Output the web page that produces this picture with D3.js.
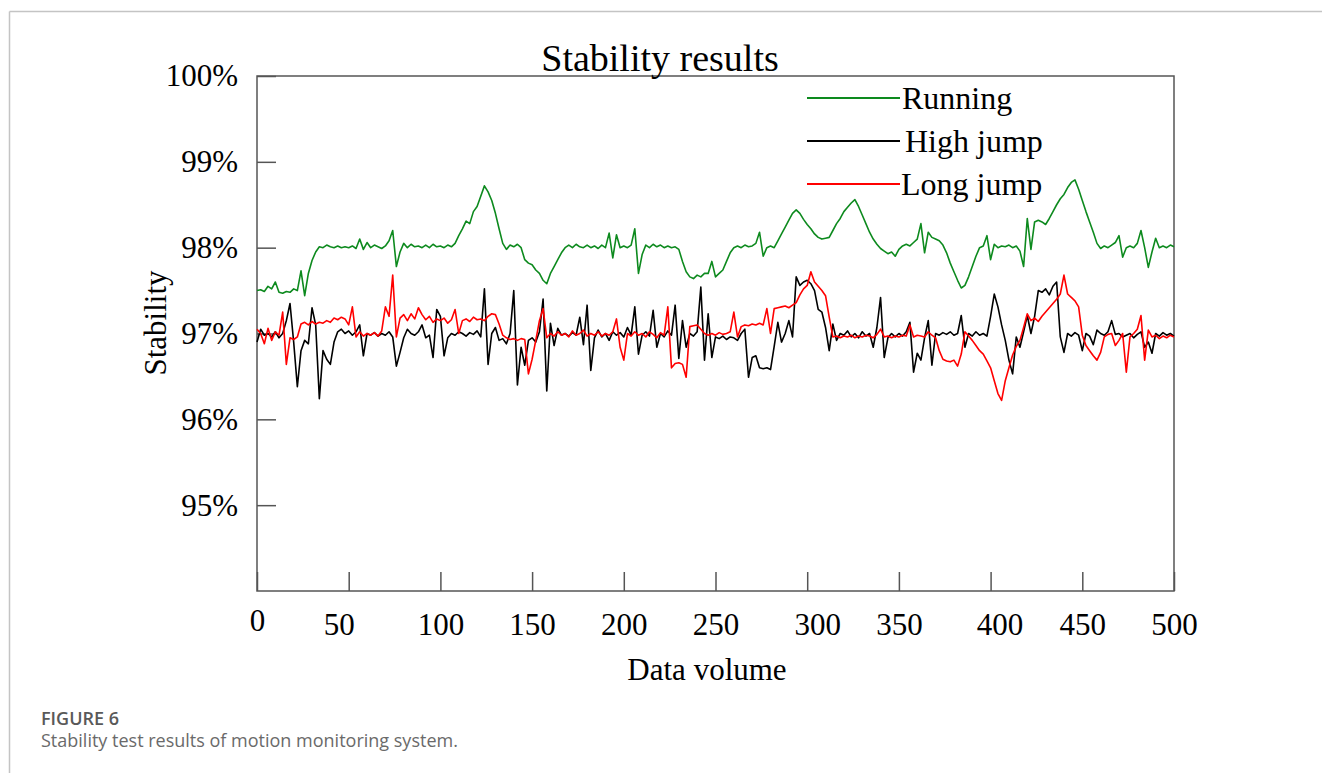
<!DOCTYPE html>
<html>
<head>
<meta charset="utf-8">
<script src="https://cdn.jsdelivr.net/npm/d3@7"></script>
<style>
  body { margin: 0; background: #fff; }
  svg { display: block; }
</style>
</head>
<body>
<svg id="chart" width="1322" height="773"></svg>
<script>
// data volume sampled every 2 units, 0..500
var dataVolume = d3.range(0, 501, 2);
var yTicks = [95, 96, 97, 98, 99, 100];
var xTicks = [0, 50, 100, 150, 200, 250, 300, 350, 400, 450, 500];
var seriesNames = ["Running", "High jump", "Long jump"];

var running = [
  97.50,97.51,97.49,97.55,97.52,97.60,97.48,97.47,97.49,97.48,97.52,97.50,97.73,97.44,97.70,97.85,97.95,98.01,98.00,98.03,98.01,98.00,98.02,98.00,98.01,
  98.00,98.02,97.99,98.10,97.98,98.06,98.00,98.03,98.01,97.99,98.02,98.08,98.20,97.78,97.95,98.05,98.00,98.04,98.01,98.02,98.00,98.03,98.00,98.04,98.01,
  98.02,98.00,98.03,98.01,98.05,98.14,98.22,98.31,98.28,98.42,98.48,98.60,98.72,98.65,98.55,98.40,98.22,98.05,97.98,98.03,98.01,98.04,98.00,97.86,97.82,
  97.80,97.74,97.70,97.62,97.58,97.70,97.78,97.86,97.94,98.00,98.03,98.00,98.04,98.01,98.00,98.03,98.00,98.02,97.99,98.03,98.00,98.17,97.88,98.15,98.00,
  98.02,98.00,98.03,98.22,97.70,97.92,98.03,98.00,98.04,98.01,98.03,98.00,98.02,98.00,98.01,97.98,97.84,97.72,97.66,97.64,97.68,97.66,97.70,97.70,97.84,
  97.66,97.70,97.74,97.84,97.94,98.00,98.02,98.00,98.03,98.01,98.02,98.05,98.18,97.90,98.00,98.02,98.00,98.08,98.16,98.24,98.32,98.40,98.44,98.40,98.33,
  98.27,98.22,98.16,98.12,98.10,98.11,98.12,98.20,98.28,98.34,98.42,98.47,98.52,98.56,98.48,98.38,98.28,98.18,98.10,98.04,97.99,97.96,97.93,97.95,97.90,
  97.98,98.02,98.04,98.02,98.06,98.10,98.28,97.94,98.18,98.12,98.10,98.08,98.03,97.94,97.82,97.72,97.62,97.53,97.56,97.66,97.78,97.90,98.00,98.02,98.14,
  97.86,98.04,98.00,98.02,98.01,98.03,98.00,98.02,97.96,97.78,98.34,97.98,98.30,98.32,98.30,98.27,98.34,98.42,98.50,98.57,98.62,98.70,98.76,98.79,98.68,
  98.55,98.42,98.30,98.18,98.05,97.99,98.02,98.00,98.03,98.06,98.14,97.89,98.00,98.02,98.00,98.05,98.20,98.00,97.77,97.95,98.11,98.00,98.02,98.00,98.03,98.01
];

var highJump = [
  96.90,97.05,96.98,97.00,96.96,97.02,96.95,97.00,97.15,97.35,96.90,96.38,96.80,96.92,96.88,97.30,97.10,96.24,96.80,96.70,96.64,96.90,97.02,97.05,97.00,
  97.03,96.98,97.02,97.10,96.74,97.00,96.98,97.01,96.97,97.00,96.98,97.02,96.96,96.62,96.78,96.95,97.05,97.00,96.98,97.02,97.10,96.95,96.98,96.72,97.28,
  97.20,96.74,96.95,97.00,96.98,97.02,97.00,96.97,97.01,96.99,97.03,96.96,97.52,96.64,97.00,97.07,96.92,96.94,96.88,97.00,97.50,96.40,96.84,96.63,96.92,
  96.95,96.90,97.02,97.40,96.33,97.12,96.86,97.06,96.98,97.00,96.97,97.01,96.98,97.19,96.87,97.33,96.57,96.95,97.04,96.96,97.00,96.92,97.02,96.98,97.01,
  96.96,97.07,96.98,97.31,96.76,96.98,97.02,96.97,97.27,96.84,97.00,96.96,97.03,96.98,97.33,96.71,97.15,96.84,97.00,96.97,97.02,97.54,96.69,97.23,96.72,
  96.96,96.94,96.97,96.93,96.96,96.95,96.92,97.00,97.05,96.49,96.72,96.74,96.60,96.59,96.60,96.58,96.85,97.13,96.90,97.00,97.15,96.96,97.66,97.56,97.60,
  97.62,97.58,97.50,97.28,97.25,97.07,96.80,97.11,96.92,97.00,96.98,97.03,96.96,97.00,96.95,97.02,96.97,97.00,96.84,97.07,97.42,96.72,96.95,97.00,96.96,
  97.00,96.97,97.02,97.13,96.55,96.77,96.69,96.95,97.15,96.63,97.00,96.98,97.01,96.99,97.02,96.98,97.00,97.21,96.84,97.00,96.97,97.02,96.98,97.00,96.97,
  97.20,97.46,97.31,97.10,96.92,96.69,96.53,96.96,96.84,97.02,97.21,97.00,97.20,97.50,97.48,97.52,97.45,97.55,97.60,96.96,96.78,97.00,96.97,97.01,96.98,
  96.80,97.00,96.97,96.87,97.04,97.00,96.98,97.02,97.15,96.99,97.00,96.96,96.98,97.00,96.95,96.99,97.02,96.84,96.90,96.77,97.00,96.97,97.01,96.98,97.00,96.97
];

var longJump = [
  97.05,97.00,96.88,97.06,96.92,97.02,96.98,97.25,96.64,96.95,96.93,96.96,97.11,97.13,97.10,97.14,97.11,97.13,97.12,97.15,97.13,97.18,97.16,97.19,97.17,
  97.10,97.31,96.96,97.02,96.97,97.00,96.98,97.01,96.97,97.03,97.31,97.20,97.68,96.96,97.18,97.22,97.15,97.23,97.17,97.30,97.22,97.16,97.20,97.13,97.17,
  97.15,97.18,97.12,97.16,97.28,97.00,97.15,97.17,97.14,97.19,97.16,97.17,97.15,97.20,97.23,97.22,97.11,96.98,96.95,96.93,96.94,96.92,96.94,96.93,96.53,
  96.70,96.92,97.15,97.29,96.95,97.00,96.97,97.02,96.98,97.00,96.96,97.03,96.98,97.00,97.04,96.97,97.00,96.98,97.02,96.97,97.00,96.98,97.02,97.17,96.84,
  96.69,97.00,96.97,97.02,96.98,97.00,96.96,97.02,96.99,96.95,97.01,96.98,97.31,96.60,96.65,96.66,96.64,96.49,97.08,97.09,97.10,97.05,97.00,96.98,97.00,
  96.98,97.01,96.99,97.00,97.02,97.25,96.96,97.08,97.10,97.09,97.11,97.10,97.12,97.10,97.29,97.00,97.29,97.30,97.31,97.32,97.30,97.33,97.36,97.45,97.52,
  97.56,97.72,97.60,97.55,97.50,97.44,97.19,96.96,96.97,96.95,96.97,96.96,96.98,96.95,96.97,96.96,96.98,96.97,96.95,96.99,97.05,96.96,96.97,96.95,96.97,
  96.96,96.98,96.97,97.10,96.96,96.98,96.97,96.96,97.02,96.98,96.95,96.80,96.70,96.68,96.67,96.69,96.62,96.76,97.02,96.97,96.92,96.86,96.80,96.76,96.68,
  96.60,96.45,96.30,96.22,96.45,96.60,96.75,96.85,96.92,97.07,97.23,97.15,97.18,97.14,97.20,97.25,97.30,97.35,97.40,97.46,97.68,97.46,97.42,97.38,97.31,
  96.98,96.86,96.80,96.74,96.69,96.78,96.96,96.99,97.00,96.86,96.92,97.00,96.55,96.96,97.00,97.05,97.21,96.69,97.04,96.96,96.98,96.94,96.97,96.95,96.98,96.96
];

var colors = ["#0d8a1e", "#000000", "#ff0000"];
var serif = "'Liberation Serif', 'Times New Roman', serif";

var svg = d3.select("#chart");

// outer figure frame (top + left)
svg.append("line").attr("x1", 9.5).attr("y1", 11.5).attr("x2", 1322).attr("y2", 11.5)
  .attr("stroke", "#c4c4c4").attr("stroke-width", 1.5);
svg.append("line").attr("x1", 9.5).attr("y1", 11.5).attr("x2", 9.5).attr("y2", 773)
  .attr("stroke", "#c4c4c4").attr("stroke-width", 1.5);

var x = d3.scaleLinear().domain([0, 500]).range([257, 1174]);
var y = d3.scaleLinear().domain([94, 100]).range([591, 76]);

// small label nudges as in the original figure
var labelNudge = {0: [0, -4], 50: [-10, 0], 300: [10, 0], 400: [9, 0]};

var xAxis = svg.append("g")
  .attr("transform", "translate(0,591)")
  .call(d3.axisBottom(x).tickValues(xTicks).tickSize(-19).tickPadding(22).tickFormat(d3.format("d")));
xAxis.select(".domain").remove();
xAxis.selectAll(".tick line").attr("stroke", "#555").attr("stroke-width", 1.5);
xAxis.selectAll(".tick text")
  .attr("font-family", serif).attr("font-size", 31).attr("fill", "#000")
  .attr("transform", function(d) {
    var n = labelNudge[d] || [0, 0];
    return "translate(" + n[0] + "," + n[1] + ")";
  });

var yAxis = svg.append("g")
  .attr("transform", "translate(257,0)")
  .call(d3.axisLeft(y).tickValues(yTicks).tickSize(-19).tickPadding(19)
    .tickFormat(function(d) { return d + "%"; }));
yAxis.select(".domain").remove();
yAxis.selectAll(".tick line").attr("stroke", "#555").attr("stroke-width", 1.5);
yAxis.selectAll(".tick text")
  .attr("font-family", serif).attr("font-size", 31).attr("fill", "#000");

// plot box
svg.append("rect")
  .attr("x", x(0)).attr("y", y(100))
  .attr("width", x(500) - x(0)).attr("height", y(94) - y(100))
  .attr("fill", "none").attr("stroke", "#555").attr("stroke-width", 1.5);

var line = d3.line()
  .x(function(d, i) { return x(dataVolume[i]); })
  .y(function(d) { return y(d); });

var allSeries = [running, highJump, longJump];
svg.append("g").selectAll("path")
  .data(allSeries)
  .enter().append("path")
    .attr("d", line)
    .attr("fill", "none")
    .attr("stroke", function(d, i) { return colors[i]; })
    .attr("stroke-width", 1.6)
    .attr("stroke-linejoin", "round");

// legend
var legend = svg.append("g").selectAll("g")
  .data(seriesNames)
  .enter().append("g")
    .attr("transform", function(d, i) { return "translate(0," + (98 + i * 43) + ")"; });
legend.append("line")
  .attr("x1", 807).attr("x2", 900)
  .attr("stroke", function(d, i) { return colors[i]; })
  .attr("stroke-width", 2);
legend.append("text")
  .attr("x", function(d, i) { return [902, 905, 901][i]; })
  .attr("dy", "0.33em")
  .attr("font-family", serif).attr("font-size", 32)
  .text(function(d) { return d; });

// titles
svg.append("text")
  .attr("x", 660).attr("y", 71)
  .attr("text-anchor", "middle")
  .attr("font-family", serif).attr("font-size", 38)
  .text("Stability results");

svg.append("text")
  .attr("x", 707).attr("y", 680)
  .attr("text-anchor", "middle")
  .attr("font-family", serif).attr("font-size", 31)
  .text("Data volume");

svg.append("text")
  .attr("transform", "translate(166,323) rotate(-90)")
  .attr("text-anchor", "middle")
  .attr("font-family", serif).attr("font-size", 31)
  .text("Stability");

// caption
svg.append("text")
  .attr("x", 41).attr("y", 725)
  .attr("font-family", "'Open Sans', sans-serif").attr("font-weight", 600)
  .attr("font-size", 18).attr("fill", "#595959")
  .text("FIGURE 6");
svg.append("text")
  .attr("x", 41).attr("y", 747)
  .attr("font-family", "'Open Sans', sans-serif")
  .attr("font-size", 18).attr("fill", "#6a6a6a")
  .text("Stability test results of motion monitoring system.");
</script>
</body>
</html>
